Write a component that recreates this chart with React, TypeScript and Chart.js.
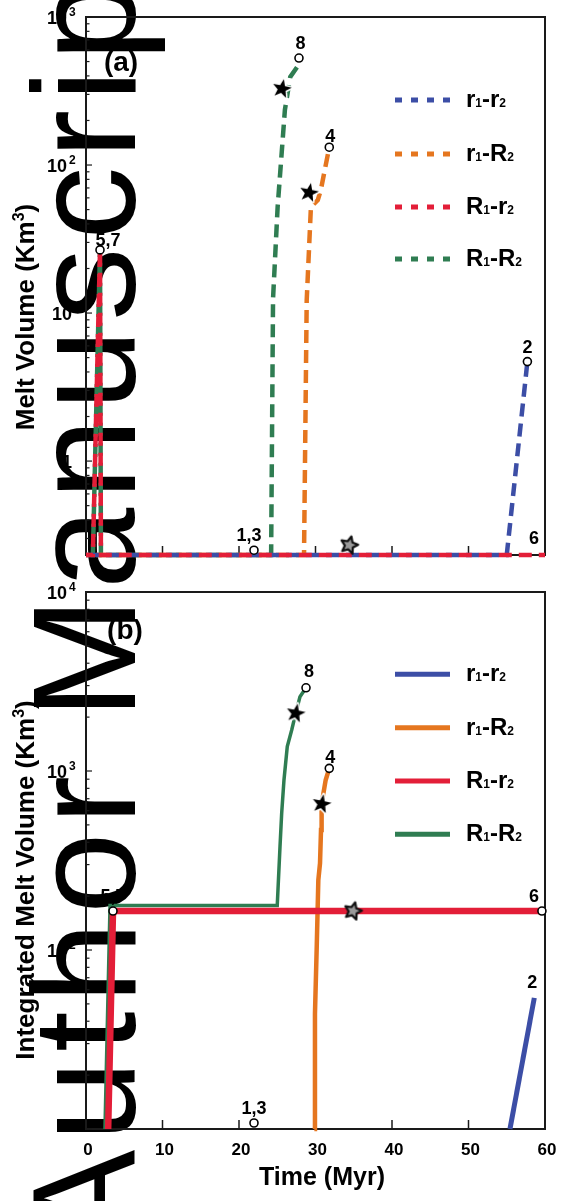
import React, { useEffect, useRef } from "react";
import { Chart, registerables } from "chart.js";
Chart.register(...registerables);

const FONT = '"Liberation Sans", Arial, Helvetica, sans-serif';
const INK = "#1a1a1a";

// ---------------- shared data ----------------
const seriesLabels = ["r1-r2", "r1-R2", "R1-r2", "R1-R2"];
const timeTicks = [0, 10, 20, 30, 40, 50, 60];

// ---------------- panel (a): melt volume (Km^3) ----------------
const aYMin = 0.232;
const aYMax = 1000;
const aYTicks = [1, 10, 100, 1000];
const aTime_r1r2 = [0, 55.0, 57.7];
const aVol_r1r2 = [0.232, 0.232, 4.7];
const aTime_r1R2 = [0, 28.5, 28.85, 29.4, 30.3, 30.7, 31.8];
const aVol_r1R2 = [0.232, 0.232, 12.2, 52, 58, 68, 132];
const aTime_R1r2 = [0, 0.9, 1.83, 1.95, 60];
const aVol_R1r2 = [0.232, 0.232, 26.7, 0.232, 0.232];
const aTime_R1R2 = [0, 0.9, 1.83, 1.95, 24.2, 24.45, 25.05, 26.0, 26.7, 27.6, 27.84];
const aVol_R1R2 = [0.232, 0.232, 26.7, 0.232, 0.232, 12.5, 52, 236, 394, 459, 528];
const aCircleTime = [27.84, 31.8, 57.7, 1.83, 21.96];
const aCircleVol = [528, 132, 4.7, 26.7, 0.25];
const aLabelText = ["8", "4", "2", "5,7", "1,3", "6"];
const aLabelTime = [27.84, 31.8, 57.7, 1.83, 21.96, 59.6];
const aLabelVol = [528, 132, 4.7, 26.7, 0.25, 0.232];
const aStarTime = [25.6, 29.15];
const aStarVol = [327, 65];
const aOpenStarTime = [34.4];
const aOpenStarVol = [0.27];

// ---------------- panel (b): integrated melt volume (Km^3) ----------------
const bYMin = 10;
const bYMax = 10000;
const bYTicks = [100, 1000, 10000];
const bTime_r1r2 = [55.42, 58.6];
const bVol_r1r2 = [10, 54];
const bTime_r1R2 = [29.85, 29.93, 30.16, 30.37, 30.59, 30.72, 30.8, 31.33, 31.8];
const bVol_r1R2 = [10, 44, 104, 246, 305, 468, 654, 891, 1035];
const bTime_R1r2 = [2.9, 3.53, 59.6];
const bVol_R1r2 = [10, 165, 165];
const bTime_R1R2 = [2.48, 3.14, 25.0, 25.36, 25.58, 25.88, 26.31, 26.89, 27.41, 27.97, 28.76];
const bVol_R1R2 = [10, 177, 177, 378, 581, 891, 1368, 1694, 2100, 2600, 2917];
const bCircleTime = [28.76, 31.8, 3.53, 59.6, 21.96];
const bCircleVol = [2917, 1035, 165, 165, 10.8];
const bLabelText = ["8", "4", "5,7", "6", "1,3", "2"];
const bLabelTime = [28.76, 31.8, 3.53, 59.6, 21.96, 58.6];
const bLabelVol = [2917, 1035, 165, 165, 10.8, 54];
const bStarTime = [27.41, 30.8];
const bStarVol = [2100, 654];
const bOpenStarTime = [34.9];
const bOpenStarVol = [165];

// ---------------- styles ----------------
const COLORS = ["#3c4ea6", "#e5761f", "#e31e38", "#2f7d52"];
const aLabelOffsets = [[1.5, -15.5], [1, -12], [0, -15], [8, -10.5], [-5, -16], [-8, -18]];
const bLabelOffsets = [[3, -17], [1, -12], [0, -16], [-8, -16], [0, -15.5], [-2, -16]];

const pts = (t: number[], v: number[]) => t.map((x, i) => ({ x, y: v[i] }));

function makeStar(outer: number, inner: number, fill: string, stroke: string, strokeW: number, rot: number, strokeFirst: boolean) {
  const size = Math.ceil(outer * 2 + strokeW * 2 + 4);
  const c = document.createElement("canvas");
  c.width = size;
  c.height = size;
  const g = c.getContext("2d")!;
  g.translate(size / 2, size / 2);
  g.rotate(rot);
  g.beginPath();
  for (let i = 0; i < 10; i++) {
    const r = i % 2 === 0 ? outer : inner;
    const a = -Math.PI / 2 + (i * Math.PI) / 5;
    if (i === 0) g.moveTo(r * Math.cos(a), r * Math.sin(a));
    else g.lineTo(r * Math.cos(a), r * Math.sin(a));
  }
  g.closePath();
  g.lineJoin = "round";
  g.strokeStyle = stroke;
  g.lineWidth = strokeW;
  g.fillStyle = fill;
  if (strokeFirst) {
    g.stroke();
    g.fill();
  } else {
    g.fill();
    g.stroke();
  }
  return c;
}

type Spec = {
  key: string;
  height: number;
  padding: { left: number; right: number; top: number; bottom: number };
  yMin: number;
  yMax: number;
  yTicks: number[];
  series: { t: number[]; v: number[] }[];
  dashed: boolean;
  widths: number[];
  circles: { t: number[]; v: number[] };
  labels: { t: number[]; v: number[]; text: string[]; off: number[][] };
  stars: { t: number[]; v: number[] };
  openStars: { t: number[]; v: number[] };
  letter: string;
  letterPos: [number, number];
  legendYs: number[];
  yTitle: string;
  yTitleCY: number;
  xLabels: boolean;
  xLabelBaseline: number;
  xTitleBaseline: number;
};

function drawRich(ctx: CanvasRenderingContext2D, parts: [string, number, number][], x: number, y: number, align: "left" | "center") {
  let w = 0;
  for (const [txt, size] of parts) {
    ctx.font = `bold ${size}px ${FONT}`;
    w += ctx.measureText(txt).width;
  }
  let cx = align === "center" ? x - w / 2 : x;
  ctx.textAlign = "left";
  ctx.textBaseline = "alphabetic";
  for (const [txt, size, raise] of parts) {
    ctx.font = `bold ${size}px ${FONT}`;
    ctx.fillText(txt, cx, y - raise);
    cx += ctx.measureText(txt).width;
  }
}

function legendParts(label: string): [string, number, number][] {
  return label.split("").map((ch) => (/[0-9]/.test(ch) ? [ch, 12, 0] : [ch, 24, 0]) as [string, number, number]);
}

function decorPlugin(spec: Spec) {
  return {
    id: "decor" + spec.key,
    beforeDatasetsDraw(chart: any) {
      const { ctx, chartArea: a, scales } = chart;
      const xs = scales.x;
      const ys = scales.y;
      ctx.save();
      ctx.fillStyle = "#000";
      ctx.strokeStyle = INK;
      // frame
      ctx.lineWidth = 2;
      ctx.strokeRect(a.left, a.top, a.right - a.left, a.bottom - a.top);
      // x ticks (inside)
      ctx.lineWidth = 1.5;
      for (const t of timeTicks) {
        if (t === timeTicks[0] || t === timeTicks[timeTicks.length - 1]) continue;
        const px = xs.getPixelForValue(t);
        ctx.beginPath();
        ctx.moveTo(px, a.bottom - 9);
        ctx.lineTo(px, a.bottom + 1);
        ctx.stroke();
      }
      // y ticks (inside), major + minor
      ctx.lineWidth = 1.2;
      const k0 = Math.floor(Math.log10(spec.yMin));
      const k1 = Math.ceil(Math.log10(spec.yMax));
      for (let k = k0; k <= k1; k++) {
        for (let m = 1; m <= 9; m++) {
          const v = m * Math.pow(10, k);
          if (v < spec.yMin * 0.999 || v > spec.yMax * 1.001) continue;
          const py = ys.getPixelForValue(v);
          ctx.beginPath();
          ctx.moveTo(a.left, py);
          ctx.lineTo(a.left + (m === 1 ? 6 : 3.5), py);
          ctx.stroke();
        }
      }
      // y tick labels
      ctx.textBaseline = "alphabetic";
      for (const v of spec.yTicks) {
        const k = Math.round(Math.log10(v));
        const py = ys.getPixelForValue(v);
        if (k >= 2) {
          ctx.font = `bold 18px ${FONT}`;
          ctx.textAlign = "right";
          ctx.fillText("10", 67, py + 6.5);
          ctx.font = `bold 12px ${FONT}`;
          ctx.textAlign = "left";
          ctx.fillText(String(k), 69, py - 1);
        } else {
          ctx.font = `bold 18px ${FONT}`;
          ctx.textAlign = "right";
          ctx.fillText(k === 1 ? "10" : "1", 72, py + 6.5);
        }
      }
      // x tick labels
      if (spec.xLabels) {
        ctx.font = `bold 17px ${FONT}`;
        ctx.textAlign = "center";
        for (const t of timeTicks) {
          ctx.fillText(String(t), xs.getPixelForValue(t) + 2, spec.xLabelBaseline);
        }
        drawRich(ctx, [["Time (Myr)", 25, 0]], 322, spec.xTitleBaseline, "center");
      }
      // y title (rotated)
      ctx.save();
      ctx.translate(34, spec.yTitleCY);
      ctx.rotate(-Math.PI / 2);
      drawRich(ctx, [[spec.yTitle + " (Km", 26, 0], ["3", 16, 10], [")", 26, 0]], 0, 0, "center");
      ctx.restore();
      // panel letter
      drawRich(ctx, [[spec.letter, 28, 0]], spec.letterPos[0], spec.letterPos[1], "center");
      // legend
      seriesLabels.forEach((lab, i) => {
        const y = spec.legendYs[i];
        ctx.save();
        ctx.strokeStyle = COLORS[i];
        ctx.lineWidth = 5;
        ctx.lineCap = "butt";
        ctx.setLineDash(spec.dashed ? [7, 9] : []);
        ctx.beginPath();
        ctx.moveTo(395, y);
        ctx.lineTo(450, y);
        ctx.stroke();
        ctx.restore();
        ctx.fillStyle = "#000";
        drawRich(ctx, legendParts(lab), 466, y + 7, "left");
      });
      ctx.restore();
    },
    afterDatasetsDraw(chart: any) {
      const { ctx, scales } = chart;
      ctx.save();
      ctx.fillStyle = "#000";
      ctx.font = `bold 18px ${FONT}`;
      ctx.textAlign = "center";
      ctx.textBaseline = "alphabetic";
      spec.labels.text.forEach((txt, i) => {
        const px = scales.x.getPixelForValue(spec.labels.t[i]) + spec.labels.off[i][0];
        const py = scales.y.getPixelForValue(spec.labels.v[i]) + spec.labels.off[i][1];
        ctx.fillText(txt, px, py + 6.5);
      });
      ctx.restore();
    },
  };
}

function buildConfig(spec: Spec): any {
  const blackStar = makeStar(10, 4.2, "#000", "#fff", 3, 0.2, true);
  const openStar = makeStar(9, 4.3, "#9a9a9a", "#111", 2.2, 0.25, false);
  const dashOffsets = [0, 10, 5, 15];
  const orders = [2, 3, 1, 4];
  const lineSets = spec.series.map((s, i) => ({
    type: "line",
    label: seriesLabels[i],
    data: pts(s.t, s.v),
    borderColor: COLORS[i],
    backgroundColor: COLORS[i],
    borderWidth: spec.widths[i],
    borderDash: spec.dashed ? [13, 7] : [],
    borderDashOffset: dashOffsets[i],
    borderCapStyle: "butt",
    pointRadius: 0,
    tension: 0,
    fill: false,
    clip: 6,
    order: orders[i],
  }));
  const markerSets = [
    {
      type: "scatter",
      data: pts(spec.stars.t, spec.stars.v),
      pointStyle: blackStar,
      pointRadius: 10,
      clip: 12,
      order: 0,
    },
    {
      type: "scatter",
      data: pts(spec.openStars.t, spec.openStars.v),
      pointStyle: openStar,
      pointRadius: 10,
      clip: 12,
      order: 0,
    },
    {
      type: "scatter",
      data: pts(spec.circles.t, spec.circles.v),
      pointStyle: "circle",
      pointRadius: 4,
      pointBackgroundColor: "#fff",
      pointBorderColor: "#000",
      pointBorderWidth: 1.6,
      clip: 8,
      order: 0,
    },
  ];
  return {
    type: "line",
    data: { datasets: [...lineSets, ...markerSets] },
    options: {
      responsive: false,
      maintainAspectRatio: false,
      animation: false,
      devicePixelRatio: 1,
      events: [],
      layout: { padding: spec.padding },
      plugins: { legend: { display: false }, tooltip: { enabled: false } },
      scales: {
        x: { type: "linear", min: 0, max: 60, display: false },
        y: { type: "logarithmic", min: spec.yMin, max: spec.yMax, display: false },
      },
    },
    plugins: [decorPlugin(spec)],
  };
}

const specA: Spec = {
  key: "A",
  height: 580,
  padding: { left: 86, right: 21, top: 17, bottom: 25 },
  yMin: aYMin,
  yMax: aYMax,
  yTicks: aYTicks,
  series: [
    { t: aTime_r1r2, v: aVol_r1r2 },
    { t: aTime_r1R2, v: aVol_r1R2 },
    { t: aTime_R1r2, v: aVol_R1r2 },
    { t: aTime_R1R2, v: aVol_R1R2 },
  ],
  dashed: true,
  widths: [4.5, 4.5, 4.5, 4.5],
  circles: { t: aCircleTime, v: aCircleVol },
  labels: { t: aLabelTime, v: aLabelVol, text: aLabelText, off: aLabelOffsets },
  stars: { t: aStarTime, v: aStarVol },
  openStars: { t: aOpenStarTime, v: aOpenStarVol },
  letter: "(a)",
  letterPos: [121, 71],
  legendYs: [100, 154, 207, 259],
  yTitle: "Melt Volume",
  yTitleCY: 317,
  xLabels: false,
  xLabelBaseline: 0,
  xTitleBaseline: 0,
};

const specB: Spec = {
  key: "B",
  height: 621,
  padding: { left: 86, right: 21, top: 12, bottom: 72 },
  yMin: bYMin,
  yMax: bYMax,
  yTicks: bYTicks,
  series: [
    { t: bTime_r1r2, v: bVol_r1r2 },
    { t: bTime_r1R2, v: bVol_r1R2 },
    { t: bTime_R1r2, v: bVol_R1r2 },
    { t: bTime_R1R2, v: bVol_R1R2 },
  ],
  dashed: false,
  widths: [5, 4.5, 6.5, 3.5],
  circles: { t: bCircleTime, v: bCircleVol },
  labels: { t: bLabelTime, v: bLabelVol, text: bLabelText, off: bLabelOffsets },
  stars: { t: bStarTime, v: bStarVol },
  openStars: { t: bOpenStarTime, v: bOpenStarVol },
  letter: "(b)",
  letterPos: [125, 59],
  legendYs: [94.3, 147.7, 201, 254.3],
  yTitle: "Integrated Melt Volume",
  yTitleCY: 300,
  xLabels: true,
  xLabelBaseline: 575,
  xTitleBaseline: 605,
};

export default function App() {
  const refA = useRef<HTMLCanvasElement>(null);
  const refB = useRef<HTMLCanvasElement>(null);
  useEffect(() => {
    const ca = new Chart(refA.current!, buildConfig(specA));
    const cb = new Chart(refB.current!, buildConfig(specB));
    return () => {
      ca.destroy();
      cb.destroy();
    };
  }, []);
  return (
    <div style={{ position: "absolute", left: 0, top: 0, width: 566, height: 1201, overflow: "hidden", background: "#fff" }}>
      <div
        style={{
          position: "absolute",
          left: 12,
          top: 1247,
          transformOrigin: "0 0",
          transform: "rotate(-90deg)",
          fontFamily: FONT,
          fontSize: 146,
          lineHeight: "146px",
          letterSpacing: "8.2px",
          whiteSpace: "nowrap",
          color: "#000",
        }}
      >
        Author Manuscript
      </div>
      <canvas ref={refA} width={566} height={580} style={{ position: "absolute", left: 0, top: 0, width: 566, height: 580 }} />
      <canvas ref={refB} width={566} height={621} style={{ position: "absolute", left: 0, top: 580, width: 566, height: 621 }} />
    </div>
  );
}
